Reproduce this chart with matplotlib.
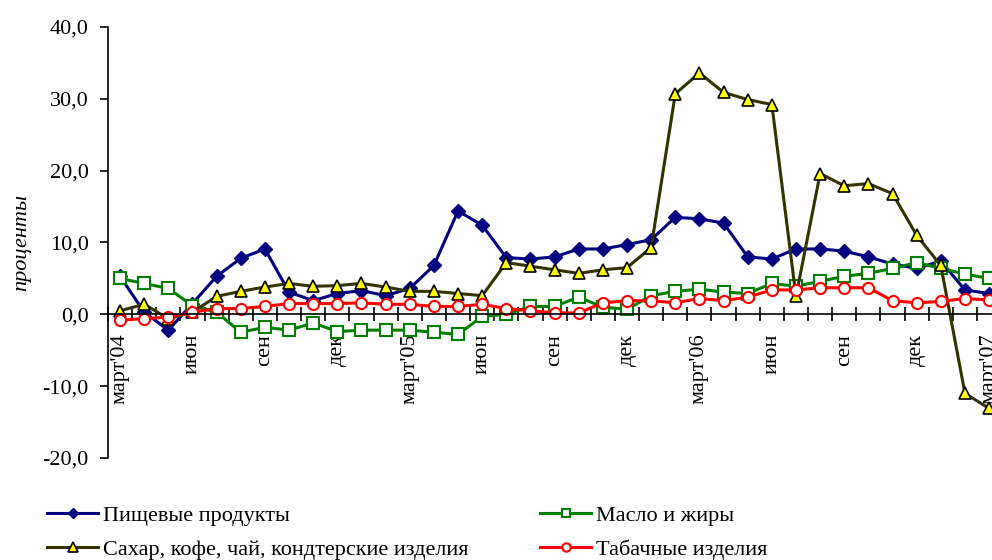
import numpy as np
import matplotlib.pyplot as plt

plt.rcParams['font.family'] = ['Liberation Serif', 'DejaVu Serif']

# months March 2004 .. March 2007
months = np.arange(37)
tick_pos = np.arange(0, 37, 3)
tick_labels = ["март'04", "июн", "сен", "дек",
               "март'05", "июн", "сен", "дек",
               "март'06", "июн", "сен", "дек", "март'07"]

food = [5.3, 0.3, -2.2, 1.5, 5.3, 7.8, 9.1, 3.1, 1.9, 2.9, 3.3, 2.6,
        3.6, 6.8, 14.4, 12.4, 7.9, 7.7, 8.0, 9.1, 9.1, 9.7, 10.4, 13.5,
        13.3, 12.7, 8.0, 7.7, 9.1, 9.1, 8.8, 8.0, 7.0, 6.4, 7.4, 3.4, 2.9]
oil = [5.0, 4.3, 3.6, 1.2, 0.3, -2.5, -1.8, -2.2, -1.2, -2.4, -2.2, -2.2,
       -2.2, -2.5, -2.8, -0.3, 0.0, 1.1, 1.1, 2.4, 1.0, 0.7, 2.6, 3.2,
       3.5, 3.1, 2.9, 4.3, 3.9, 4.6, 5.3, 5.7, 6.4, 7.2, 6.4, 5.6, 5.0]
sugar = [0.5, 1.4, -0.6, 0.3, 2.5, 3.2, 3.8, 4.3, 3.9, 4.0, 4.3, 3.8,
         3.2, 3.2, 2.9, 2.6, 7.2, 6.7, 6.2, 5.7, 6.2, 6.5, 9.3, 30.7,
         33.6, 30.9, 29.9, 29.2, 2.5, 19.6, 17.9, 18.2, 16.8, 11.0, 6.8, -11.0, -13.1]
tobacco = [-0.8, -0.6, -0.4, 0.3, 0.8, 0.8, 1.1, 1.5, 1.5, 1.5, 1.6, 1.4,
           1.4, 1.1, 1.1, 1.4, 0.8, 0.5, 0.2, 0.2, 1.6, 1.9, 1.9, 1.6,
           2.2, 1.9, 2.4, 3.4, 3.4, 3.7, 3.7, 3.7, 1.9, 1.6, 1.8, 2.2, 2.0]

fig = plt.figure(figsize=(9.92, 5.6), dpi=100)
ax = fig.add_axes([108 / 992, 1 - 458 / 560, 1 - 108 / 992, 431 / 560])

l1, = ax.plot(months, food, color='#000080', lw=2.2, marker='D', ms=7,
              mfc='#000080', mec='#000080', label='Пищевые продукты', clip_on=False)
l2, = ax.plot(months, oil, color='#008000', lw=2.2, marker='s', ms=8,
              mfc='white', mec='#008000', mew=1.5, label='Масло и жиры', clip_on=False)
l3, = ax.plot(months, sugar, color='#333300', lw=2.2, marker='^', ms=9,
              mfc='#FFFF00', mec='black', mew=1.2,
              label='Сахар, кофе, чай, кондтерские изделия', clip_on=False)
l4, = ax.plot(months, tobacco, color='#FF0000', lw=2.2, marker='o', ms=8,
              mfc='white', mec='#FF0000', mew=1.5, label='Табачные изделия', clip_on=False)

ax.set_xlim(-0.5, 36.12)
ax.set_ylim(-20, 40)
ax.set_yticks(np.arange(-20, 41, 10))
ax.set_yticklabels([f'{v:.1f}'.replace('.', ',') for v in np.arange(-20, 41, 10)],
                   fontsize=16)
ax.tick_params(axis='y', direction='out', length=6, width=1.2, pad=8)

ax.spines['top'].set_visible(False)
ax.spines['right'].set_visible(False)
ax.spines['left'].set_linewidth(1.2)
ax.spines['bottom'].set_position(('data', 0))
ax.spines['bottom'].set_linewidth(1.2)

ax.set_xticks(tick_pos)
ax.set_xticklabels(tick_labels, rotation=90, fontsize=16)
ax.set_xticks(np.arange(-0.5, 36.5, 1), minor=True)
ax.tick_params(axis='x', which='major', length=0, pad=14)
ax.tick_params(axis='x', which='minor', direction='inout', length=10, width=1.2)

ax.set_ylabel('проценты', fontsize=16, style='italic', labelpad=8)

leg_kw = dict(loc='lower left', frameon=False, fontsize=16, handlelength=2.3,
              handletextpad=0.2, labelspacing=0.6, markerscale=0.75, borderpad=0.4)
fig.legend([l1, l3], [l1.get_label(), l3.get_label()],
           bbox_to_anchor=(27 / 992, -0.036), **leg_kw)
fig.legend([l2, l4], [l2.get_label(), l4.get_label()],
           bbox_to_anchor=(520 / 992, -0.036), **leg_kw)

fig.savefig('out.png', dpi=100)
